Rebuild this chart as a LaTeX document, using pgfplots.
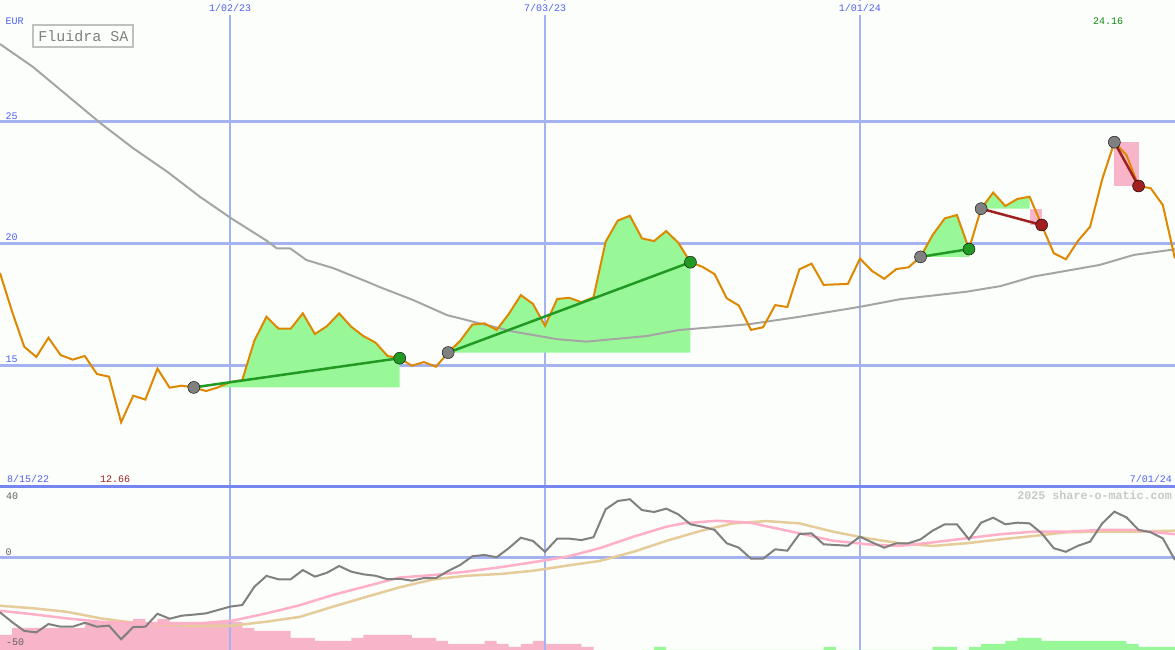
\documentclass[border=0pt]{standalone}
\usepackage{pgfplots}
\pgfplotsset{compat=1.18}
\usepackage{fontspec}
\setmainfont{Liberation Mono}

\definecolor{bg}{RGB}{251,254,251}
\definecolor{gridblue}{RGB}{164,178,240}
\definecolor{sepblue}{RGB}{118,134,240}
\definecolor{lblblue}{RGB}{80,96,240}
\definecolor{pricecol}{RGB}{221,136,0}
\definecolor{magray}{RGB}{165,165,165}
\definecolor{wingreen}{RGB}{152,248,152}
\definecolor{losspink}{RGB}{248,180,200}
\definecolor{tradegreen}{RGB}{34,153,34}
\definecolor{tradered}{RGB}{160,32,32}
\definecolor{dotgray}{RGB}{128,128,128}
\definecolor{oscpink}{RGB}{255,176,200}
\definecolor{osctan}{RGB}{230,204,154}
\definecolor{boxgray}{RGB}{192,192,192}
\definecolor{valgreen}{RGB}{16,136,16}
\definecolor{txtgray}{RGB}{96,96,96}
\definecolor{wmgray}{RGB}{200,200,200}

\newcommand\fs{\fontsize{10}{12}\selectfont}

\pgfplotsset{
  panel/.style={scale only axis, width=1175pt, xmin=-19, xmax=78,
    axis line style={draw=none}, major tick length=0pt,
    xtick={0,26,52}, xmajorgrids, ymajorgrids,
    x grid style={gridblue, line width=1.5pt},
    y grid style={gridblue, line width=3pt},
    yticklabel style={anchor=base west, xshift=5.5pt, yshift=2.5pt, inner sep=0pt, font=\fs},
  },
}

% weekly close, x = weeks from 1/02/23
\pgfplotstableread{
w p
-19 18.79
-18 17.20
-17 15.76
-16 15.34
-15 16.13
-14 15.42
-13 15.23
-12 15.38
-11 14.64
-10 14.53
-9 12.66
-8 13.75
-7 13.59
-6 14.86
-5 14.08
-4 14.16
-3 14.09
-2 13.94
-1 14.09
0 14.31
1 14.39
2 16.01
3 16.99
4 16.50
5 16.50
6 17.13
7 16.28
8 16.61
9 17.13
10 16.58
11 16.20
12 15.93
13 15.38
14 15.29
15 14.98
16 15.13
17 14.94
18 15.52
19 16.01
20 16.67
21 16.72
22 16.45
23 17.10
24 17.88
25 17.52
26 16.62
27 17.72
28 17.77
29 17.59
30 17.79
31 20.07
32 20.94
33 21.14
34 20.21
35 20.10
36 20.51
37 20.03
38 19.23
39 19.04
40 18.74
41 17.75
42 17.45
43 16.45
44 16.56
45 17.47
46 17.39
47 18.94
48 19.17
49 18.30
50 18.32
51 18.34
52 19.38
53 18.87
54 18.55
55 18.95
56 19.02
57 19.45
58 20.35
59 21.03
60 21.17
61 19.77
62 21.43
63 22.09
64 21.54
65 21.83
66 21.92
67 20.76
68 19.60
69 19.35
70 20.11
71 20.69
72 22.64
73 24.16
74 23.63
75 22.36
76 22.27
77 21.58
78 19.39
}\pricetab

\pgfplotstableread{
w o
-19 -30.6
-18 -36.1
-17 -41.1
-16 -41.9
-15 -37.2
-14 -38.7
-13 -38.7
-12 -36.5
-11 -38.7
-10 -38.1
-9 -45.8
-8 -38.9
-7 -38.7
-6 -31.4
-5 -34.2
-4 -32.5
-3 -31.9
-2 -31.2
-1 -29.3
0 -27.4
1 -26.5
2 -16.2
3 -10.1
4 -12.0
5 -12.0
6 -6.8
7 -10.5
8 -8.3
9 -4.5
10 -7.7
11 -9.2
12 -10.0
13 -12.0
14 -11.7
15 -12.8
16 -11.3
17 -11.3
18 -7.3
19 -3.9
20 1.0
21 1.7
22 0.4
23 5.5
24 11.4
25 9.6
26 3.5
27 10.9
28 10.9
29 10.1
30 11.7
31 27.4
32 32.1
33 33.1
34 27.0
35 25.9
36 27.8
37 24.6
38 19.0
39 17.6
40 15.8
41 8.3
42 5.8
43 -0.4
44 -0.4
45 4.9
46 4.1
47 13.5
48 13.9
49 7.7
50 7.3
51 6.9
52 12.0
53 8.8
54 5.8
55 8.3
56 8.3
57 10.5
58 15.4
59 19.0
60 19.0
61 10.5
62 19.9
63 22.7
64 19.0
65 19.9
66 19.5
67 13.9
68 5.5
69 3.5
70 6.9
71 9.2
72 19.5
73 26.1
74 22.9
75 15.8
76 14.5
77 11.1
78 -1.1
}\osctab

\begin{document}
\begin{tikzpicture}
\useasboundingbox (0,0) rectangle (1175pt,650pt);
\fill[bg] (0,0) rectangle (1175pt,650pt);

% histogram bars of the lower panel (heights in panel points)
\begin{axis}[scale only axis, width=1175pt, height=163pt, at={(0,0)}, anchor=south west,
  xmin=-19, xmax=78, ymin=0, ymax=163, hide axis]
\addplot[const plot, draw=none, fill=losspink] coordinates {
 (-19,15) (-18,22) (-12,28) (-10,29) (-8,31) (-7,28) (-6,31) (-5,28) (1,22) (2,19)
 (5,12) (7,9) (10,12) (11,15) (15,12) (17,9) (18,6) (21,9) (22,6) (23,3) (24,6)
 (25,9) (26,6) (29,3) (30,0)} \closedcycle;
\addplot[const plot, draw=none, fill=wingreen] coordinates {
 (34,0) (35,3) (36,0) (49,3) (50,0) (58,3) (60,0) (61,3) (62,6) (64,9) (65,12)
 (67,9) (74,6) (75,3) (78,3)} \closedcycle;
\end{axis}

% lower panel
\begin{axis}[panel, at={(0,0)}, anchor=south west, height=163pt,
  ymin=-51.83, ymax=40, ytick={0}, yticklabels={0}, xticklabels={},
  x grid style={gridblue, line width=2pt},
  yticklabel style={text=txtgray}]
\addplot[osctan, line width=2.5pt] coordinates {
 (-19,-26.9) (-16.3,-28.3) (-13.5,-30.3) (-10.7,-34.0) (-8,-36.5) (-5.2,-37.7)
 (-2.5,-38.3) (0.2,-38.1) (3,-35.9) (5.8,-33.1) (8.5,-27.4) (11.3,-21.8) (14,-16.5)
 (16.8,-12.0) (19.5,-10.0) (22.3,-9.0) (25,-7.2) (27.8,-4.3) (30.5,-1.7) (33.3,3.5)
 (36,9.6) (38.8,15.2) (41.5,19.5) (44.3,20.8) (47,19.5) (49.8,14.8) (52.6,11.1)
 (55.3,8.3) (58,6.8) (60.8,8.3) (63.6,10.5) (66.3,12.4) (69.1,14.5) (71.8,14.8)
 (74.5,14.8) (78,15.4)};
\addplot[oscpink, line width=2.5pt] coordinates {
 (-19,-29.7) (-16.3,-31.7) (-13.5,-34.0) (-10.7,-35.9) (-8,-36.8) (-5.2,-37.2)
 (-2.5,-36.8) (0.2,-35.3) (3,-31.2) (5.8,-26.5) (8.5,-20.8) (11.3,-15.8) (14,-11.0)
 (16.8,-9.6) (19.5,-7.7) (22.3,-5.2) (25,-2.4) (27.8,0.7) (30.5,5.5) (33.3,12.0)
 (36,17.6) (37.4,19.5) (40.2,21.0) (42.9,19.9) (45.7,15.8) (47,13.9) (49.8,9.7)
 (52.6,7.7) (55.3,6.8) (58,8.8) (60.8,11.1) (63.6,13.4) (66.3,14.8) (69.1,14.8)
 (71.8,15.8) (74.5,15.8) (78,13.4)};
\addplot[dotgray, line width=2pt] table[x=w, y=o] {\osctab};
\end{axis}

% price panel
\begin{axis}[panel, at={(0,163pt)}, anchor=south west, height=487pt,
  ymin=10, ymax=30, ytick={15,20,25}, yticklabels={15,20,25},
  yticklabel style={text=lblblue},
  xticklabel pos=right, xticklabels={1/02/23,7/03/23,1/01/24},
  xticklabel style={anchor=north, yshift=-1pt, fill=bg, inner xsep=1pt, inner ysep=3pt,
    text=lblblue, font=\fs}]
% winning trades
\addplot[draw=none, fill=wingreen] coordinates {(-3,14.09) (-2,14.09) (-1,14.09) (0,14.31)
 (1,14.39) (2,16.01) (3,16.99) (4,16.50) (5,16.50) (6,17.13) (7,16.28) (8,16.61) (9,17.13)
 (10,16.58) (11,16.20) (12,15.93) (13,15.38) (14,15.29) (14,14.09)} -- cycle;
\addplot[draw=none, fill=wingreen] coordinates {(18,15.52) (19,16.01) (20,16.67) (21,16.72)
 (22,16.45) (23,17.10) (24,17.88) (25,17.52) (26,16.62) (27,17.72) (28,17.77) (29,17.59)
 (30,17.79) (31,20.07) (32,20.94) (33,21.14) (34,20.21) (35,20.10) (36,20.51) (37,20.03)
 (38,19.23) (38,15.52)} -- cycle;
\addplot[draw=none, fill=wingreen] coordinates {(57,19.45) (58,20.35) (59,21.03) (60,21.17)
 (61,19.77) (61,19.45)} -- cycle;
\addplot[draw=none, fill=wingreen] coordinates {(62,21.43) (63,22.09) (64,21.54) (65,21.83)
 (66,21.92) (66,21.43)} -- cycle;
% losing trades
\addplot[draw=none, fill=losspink] coordinates {(66,21.43) (67,21.43) (67,20.76) (66,20.76)} -- cycle;
\addplot[draw=none, fill=losspink] coordinates {(73,24.16) (75,24.16) (75,22.36) (73,22.36)} -- cycle;
% long moving average
\addplot[magray, line width=2pt] coordinates {
 (-19,28.19) (-16.3,27.26) (-13.5,26.10) (-10.7,24.94) (-8,23.91) (-5.2,22.95)
 (-2.5,21.92) (0.1,21.03) (3,20.12) (3.85,19.80) (4.95,19.80) (6.3,19.32) (8.5,18.99)
 (11.3,18.43) (12.4,18.20) (15.1,17.68) (17.9,17.06) (20.6,16.72) (23.4,16.38) (27,16.07)
 (29.4,15.97) (31.6,16.07) (34.4,16.20) (37.1,16.45) (41.3,16.62) (42.9,16.69) (47,16.99)
 (52,17.40) (55.3,17.71) (60.8,18.02) (63.6,18.25) (66.3,18.64) (71.8,19.12) (74.6,19.53)
 (78,19.76)};
% entry / exit dots
\addplot[only marks, mark=*, mark size=6pt, mark options={draw=none, fill=dotgray}]
 coordinates {(-3,14.09) (18,15.52) (57,19.45) (62,21.43) (73,24.16)};
\addplot[only marks, mark=*, mark size=6pt, mark options={draw=none, fill=tradegreen}]
 coordinates {(14,15.29) (38,19.23) (61,19.77)};
\addplot[only marks, mark=*, mark size=6pt, mark options={draw=none, fill=tradered}]
 coordinates {(67,20.76) (75,22.36)};
% price
\addplot[pricecol, line width=2pt] table[x=w, y=p] {\pricetab};
% trade lines
\addplot[tradegreen, line width=2.5pt] coordinates {(-3,14.09) (14,15.29)};
\addplot[tradegreen, line width=2.5pt] coordinates {(18,15.52) (38,19.23)};
\addplot[tradegreen, line width=2.5pt] coordinates {(57,19.45) (61,19.77)};
\addplot[tradered, line width=2.5pt] coordinates {(62,21.43) (67,20.76)};
\addplot[tradered, line width=2.5pt] coordinates {(73,24.16) (75,22.36)};
\end{axis}

\draw[sepblue, line width=3pt] (0,163pt) -- (1175pt,163pt);

\node[draw=boxgray, line width=2pt, fill=bg, text=dotgray, inner sep=0pt,
  minimum width=100pt, minimum height=22pt, font=\fontsize{15}{15}\selectfont]
  at (83.3pt,613.7pt) {Fluidra SA};
\node[anchor=west, inner sep=0pt, text=lblblue, font=\fs] at (5.5pt,628.5pt) {EUR};
\node[inner sep=0pt, text=valgreen, font=\fs] at (1108pt,629pt) {24.16};
\node[anchor=west, inner sep=0pt, text=lblblue, font=\fs] at (7pt,171pt) {8/15/22};
\node[anchor=west, inner sep=0pt, text=tradered, font=\fs] at (100pt,171pt) {12.66};
\node[anchor=east, inner sep=0pt, text=lblblue, font=\fs] at (1172pt,171pt) {7/01/24};
\node[anchor=east, inner sep=0pt, text=wmgray, font=\fontsize{11.7}{13}\selectfont\bfseries]
  at (1172pt,155pt) {2025 share-o-matic.com};
\node[anchor=west, inner sep=0pt, text=txtgray, font=\fs] at (6pt,154pt) {40};
\node[anchor=west, inner sep=0pt, text=txtgray, font=\fs] at (6pt,8pt) {-50};
\end{tikzpicture}
\end{document}
